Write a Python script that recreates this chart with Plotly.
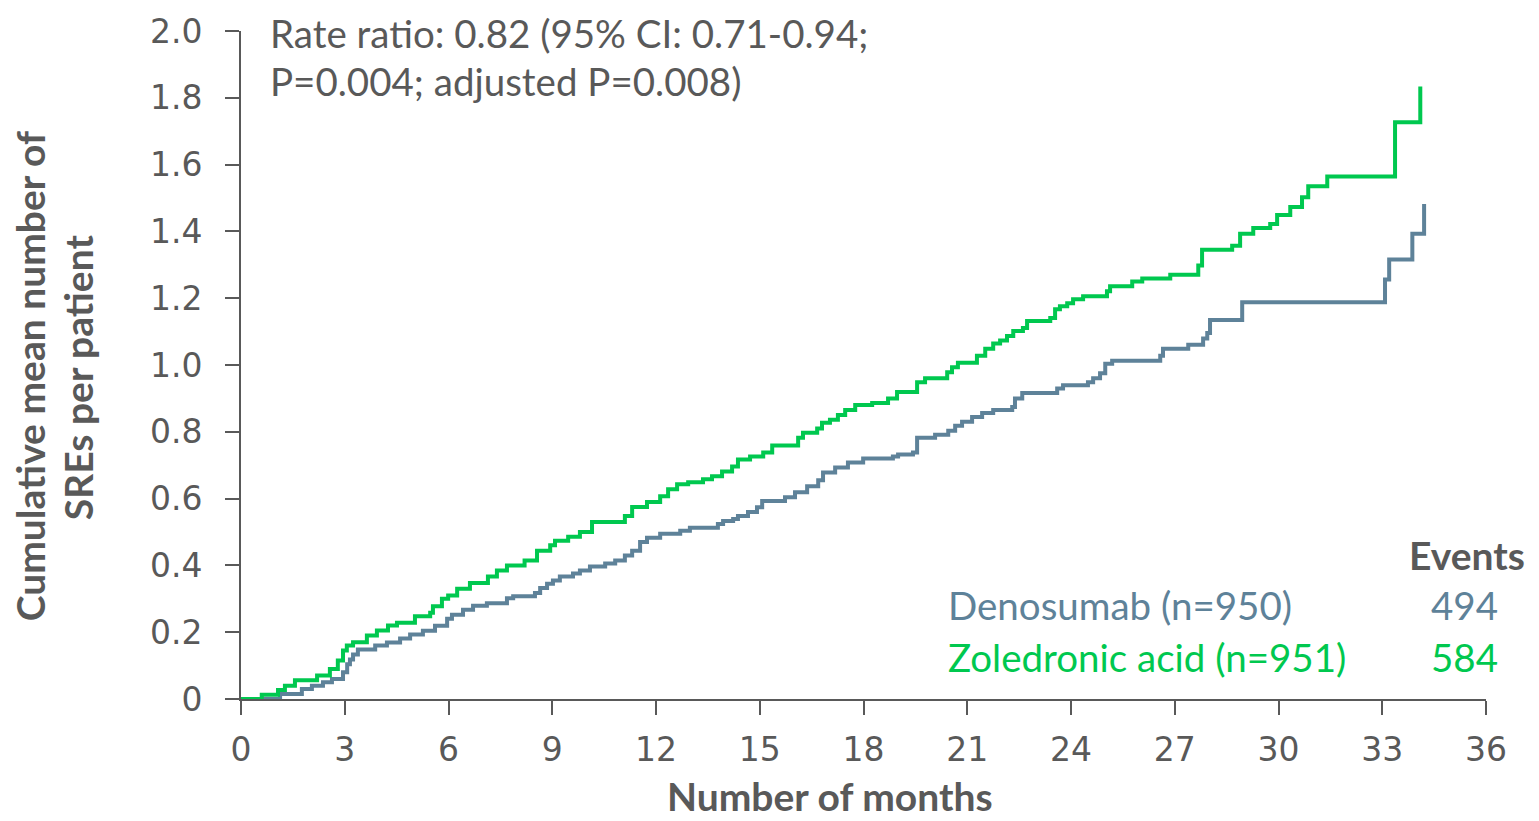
import plotly.graph_objects as go

# ---- data ----
zol_months = [0, 0.6, 1.07, 1.27, 1.56, 2.2, 2.57, 2.8, 2.95, 3.06, 3.24, 3.64, 3.93, 4.25, 4.51,
              5.03, 5.47, 5.55, 5.81, 5.99, 6.25, 6.62, 7.14, 7.4, 7.69, 8.2, 8.56, 8.94, 9.08,
              9.46, 9.80, 10.15, 11.1, 11.31, 11.74, 12.12, 12.35, 12.61, 12.93, 13.36, 13.62,
              13.91, 14.2, 14.37, 14.72, 15.1, 15.36, 16.11, 16.25, 16.66, 16.8, 17.03, 17.26,
              17.47, 17.76, 18.25, 18.71, 18.97, 19.55, 19.78, 20.42, 20.56, 20.73, 21.28, 21.52,
              21.75, 21.95, 22.15, 22.33, 22.61, 22.73, 23.4, 23.54, 23.68, 23.89, 24.06, 24.35,
              25.04, 25.13, 25.77, 26.06, 26.87, 27.68, 27.79, 28.66, 28.89, 29.27, 29.76, 29.96,
              30.34, 30.68, 30.86, 31.41, 33.37, 34.1]
zol_mean = [0, 0.013, 0.027, 0.04, 0.056, 0.07, 0.09, 0.115, 0.145, 0.16, 0.17, 0.19, 0.205, 0.22,
            0.228, 0.248, 0.258, 0.278, 0.30, 0.31, 0.33, 0.347, 0.367, 0.385, 0.40, 0.415, 0.444,
            0.46, 0.474, 0.486, 0.50, 0.53, 0.548, 0.575, 0.59, 0.607, 0.628, 0.643, 0.649, 0.658,
            0.667, 0.681, 0.696, 0.717, 0.726, 0.738, 0.759, 0.782, 0.797, 0.81, 0.827, 0.836,
            0.85, 0.865, 0.88, 0.886, 0.90, 0.919, 0.948, 0.96, 0.978, 0.993, 1.007, 1.028, 1.049,
            1.064, 1.073, 1.087, 1.102, 1.111, 1.132, 1.141, 1.167, 1.176, 1.185, 1.197, 1.206,
            1.221, 1.236, 1.25, 1.259, 1.27, 1.298, 1.345, 1.357, 1.393, 1.41, 1.422, 1.449,
            1.473, 1.502, 1.535, 1.564, 1.727, 1.834]

den_months = [0, 1.13, 1.76, 2.05, 2.37, 2.63, 2.95, 3.07, 3.15, 3.24, 3.38, 3.88, 4.22, 4.6, 4.89,
              5.26, 5.61, 5.96, 6.1, 6.42, 6.71, 7.11, 7.69, 7.87, 8.5, 8.65, 8.85, 9.02, 9.22,
              9.6, 9.8, 10.09, 10.53, 10.82, 11.1, 11.31, 11.54, 11.74, 12.12, 12.7, 12.98, 13.79,
              13.94, 14.23, 14.37, 14.66, 14.92, 15.07, 15.73, 16.02, 16.37, 16.69, 16.83, 17.18,
              17.55, 17.99, 18.85, 19.0, 19.43, 19.55, 20.07, 20.45, 20.65, 20.85, 21.14, 21.43,
              21.75, 22.3, 22.38, 22.59, 23.6, 23.77, 24.49, 24.64, 24.84, 24.99, 25.19, 26.58,
              26.66, 27.39, 27.82, 27.94, 28.02, 28.95, 33.08, 33.2, 33.87, 34.21]
den_mean = [0, 0.015, 0.03, 0.04, 0.05, 0.06, 0.08, 0.104, 0.118, 0.133, 0.148, 0.16, 0.169, 0.181,
            0.193, 0.204, 0.219, 0.24, 0.252, 0.267, 0.279, 0.287, 0.302, 0.308, 0.317, 0.332,
            0.345, 0.355, 0.367, 0.376, 0.385, 0.397, 0.406, 0.415, 0.43, 0.444, 0.47, 0.483,
            0.495, 0.504, 0.513, 0.524, 0.533, 0.539, 0.548, 0.56, 0.574, 0.593, 0.604, 0.619,
            0.637, 0.655, 0.678, 0.693, 0.708, 0.72, 0.726, 0.732, 0.738, 0.782, 0.791, 0.803,
            0.818, 0.83, 0.844, 0.856, 0.865, 0.874, 0.9, 0.916, 0.93, 0.939, 0.948, 0.96, 0.975,
            1.004, 1.013, 1.028, 1.049, 1.061, 1.079, 1.096, 1.135, 1.188, 1.256, 1.316, 1.393,
            1.482]

x_ticks = [0, 3, 6, 9, 12, 15, 18, 21, 24, 27, 30, 33, 36]
y_ticks = [0, 0.2, 0.4, 0.6, 0.8, 1.0, 1.2, 1.4, 1.6, 1.8, 2.0]
y_tick_labels = ["0", "0.2", "0.4", "0.6", "0.8", "1.0", "1.2", "1.4", "1.6", "1.8", "2.0"]

series_names = ["Denosumab (n=950)", "Zoledronic acid (n=951)"]
series_events = ["494", "584"]

# ---- styles ----
GREY = "#595959"
BLUE = "#5E8299"
GREEN = "#00C84F"
W, H = 1539, 821
L, R, T, B = 241, 53, 22, 122
PW, PH = W - L - R, H - T - B


def px(xp):
    return (xp - L) / PW


def py(yp):
    return (H - B - yp) / PH


fig = go.Figure()
fig.add_trace(go.Scatter(x=den_months, y=den_mean, mode="lines", line_shape="hv",
                         line=dict(color=BLUE, width=4), name=series_names[0], showlegend=False))
fig.add_trace(go.Scatter(x=zol_months, y=zol_mean, mode="lines", line_shape="hv",
                         line=dict(color=GREEN, width=4), name=series_names[1], showlegend=False))

TEXT_FONT = "Lato"
REG = 38.5
BOLD = 39
anns = []
anns.append(dict(x=px(268), y=py(24), text="Rate ratio: 0.82 (95% CI: 0.71-0.94;",
                 xanchor="left", yanchor="middle", font=dict(family=TEXT_FONT, size=REG, color=GREY)))
anns.append(dict(x=px(268), y=py(73), text="P=0.004; adjusted P=0.008)",
                 xanchor="left", yanchor="middle", font=dict(family=TEXT_FONT, size=REG, color=GREY)))
anns.append(dict(x=px(1527), y=py(553), text="<b>Events</b>",
                 xanchor="right", yanchor="middle", font=dict(family=TEXT_FONT, size=BOLD, color=GREY)))
for name, ev, col, yc in zip(series_names, series_events, [BLUE, GREEN], [604, 656]):
    anns.append(dict(x=px(946), y=py(yc), text=name, xanchor="left", yanchor="middle",
                     font=dict(family=TEXT_FONT, size=REG, color=col)))
    anns.append(dict(x=px(1500), y=py(yc), text=ev, xanchor="right", yanchor="middle",
                     font=dict(family=TEXT_FONT, size=REG, color=col)))
anns.append(dict(x=px(830), y=py(797), text="<b>Number of months</b>", xanchor="center",
                 yanchor="middle", font=dict(family=TEXT_FONT, size=BOLD, color=GREY)))
anns.append(dict(x=px(30), y=py(372), text="<b>Cumulative mean number of</b>", textangle=-90,
                 xanchor="center", yanchor="middle", font=dict(family=TEXT_FONT, size=BOLD, color=GREY)))
anns.append(dict(x=px(78), y=py(373), text="<b>SREs per patient</b>", textangle=-90,
                 xanchor="center", yanchor="middle", font=dict(family=TEXT_FONT, size=BOLD, color=GREY)))
for a in anns:
    a.update(xref="paper", yref="paper", showarrow=False)

fig.update_layout(
    width=W, height=H,
    margin=dict(l=L, r=R, t=T, b=B),
    paper_bgcolor="white", plot_bgcolor="white",
    annotations=anns,
    xaxis=dict(range=[0, 36], tickvals=x_ticks, ticktext=[str(v) for v in x_ticks],
               showgrid=False, zeroline=False, showline=True, linecolor=GREY, linewidth=2,
               ticks="outside", ticklen=14, tickwidth=2, tickcolor=GREY, ticklabelstandoff=6,
               tickfont=dict(family="DejaVu Sans", size=33, color=GREY)),
    yaxis=dict(range=[0, 2.0], tickvals=y_ticks, ticktext=y_tick_labels,
               showgrid=False, zeroline=False, showline=True, linecolor=GREY, linewidth=2,
               ticks="outside", ticklen=14, tickwidth=2, tickcolor=GREY, ticklabelstandoff=16,
               tickfont=dict(family="DejaVu Sans", size=33, color=GREY)),
)

fig.write_html("out.html", config={"displayModeBar": False},
               post_script="document.body.style.margin='0';")
